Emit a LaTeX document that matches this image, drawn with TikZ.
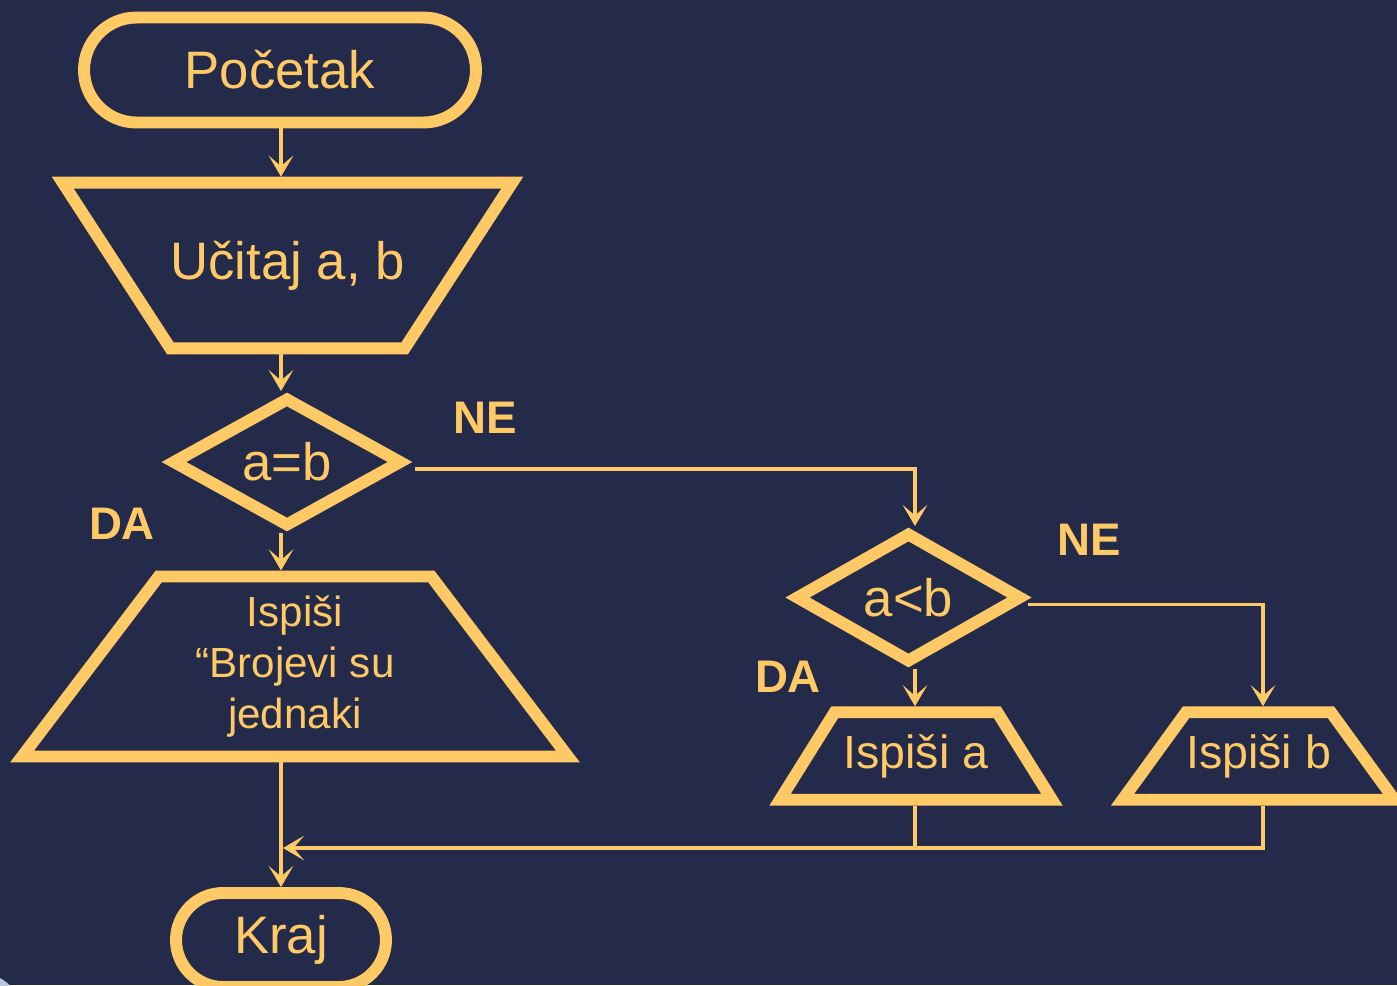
\documentclass[tikz,border=0pt]{standalone}
\usepackage{fontspec}
\setmainfont{Liberation Sans}
\usetikzlibrary{shapes.geometric,arrows.meta}

\definecolor{slide}{HTML}{242A4A}
\definecolor{zuta}{HTML}{FFCA66}
\definecolor{krug}{HTML}{B9C9DD}

\tikzset{
  box/.style={draw=zuta, line width=6.8pt, text=zuta, inner sep=0pt, align=center},
  terminal/.style={box, rectangle, font=\fontsize{30}{36}\selectfont},
  ulaz/.style={box, trapezium, trapezium stretches body=true},
  odluka/.style={box, diamond, aspect=1.8, font=\fontsize{30}{36}\selectfont},
  veza/.style={draw=zuta, line width=2.2pt},
  strel/.style={veza, -{Stealth[length=12pt, width=14pt, inset=6pt]}},
  oznaka/.style={text=zuta, font=\fontsize{26}{30}\selectfont\bfseries}
}

\begin{document}
\begin{tikzpicture}[x=0.02cm, y=-0.02cm]
  \fill[slide] (0,0) rectangle (1397,985);
  \useasboundingbox (0,0) rectangle (1397,985);
  \fill[krug] (-30,1030) circle (1.2cm);

  \node[terminal, minimum width=7.84cm, minimum height=2.1cm, rounded corners=1.05cm] (start) at (280,70) {Početak};
  \node[ulaz, trapezium left angle=123, trapezium right angle=123, minimum width=8.78cm, inner ysep=33.1pt,
        font=\fontsize{30}{36}\selectfont] (read) at (287.5,265.5) {Učitaj a, b};
  \node[odluka, minimum width=4.62cm, minimum height=2.6cm] (q1) at (287,462) {a=b};
  \node[ulaz, trapezium left angle=52.8, trapezium right angle=52.8, minimum width=10.92cm, inner ysep=11pt,
        font=\fontsize{24}{29}\selectfont] (pr1) at (295,666.5) {Ispiši\\“Brojevi su\\jednaki};
  \node[odluka, minimum width=4.54cm, minimum height=2.62cm] (q2) at (908.5,597.5) {a<b};
  \node[ulaz, trapezium left angle=58, trapezium right angle=58, minimum width=5.44cm, inner ysep=12.5pt,
        font=\fontsize{26.5}{32}\selectfont] (outa) at (916,756) {Ispiši a};
  \node[ulaz, trapezium left angle=54, trapezium right angle=54, minimum width=5.26cm, inner ysep=12.5pt,
        font=\fontsize{26.5}{32}\selectfont] (outb) at (1258.5,756) {Ispiši b};
  \node[terminal, minimum width=4.2cm, minimum height=1.88cm, rounded corners=0.94cm] (end) at (281,940) {Kraj};

  \node[oznaka] (ne1) at (485,418) {NE};
  \node[oznaka] (da1) at (122,524) {DA};
  \node[oznaka] (ne2) at (1089,540) {NE};
  \node[oznaka] (da2) at (788,677) {DA};

  % stupci za strelice
  \coordinate (col) at (281,0);
  \coordinate (col2) at (915,0);
  \coordinate (col3) at (1263,0);
  \coordinate (join) at (283,848);

  \draw[strel] (start.south -| col) -- (read.north -| col);
  \draw[strel] (read.south -| col) -- (q1.north -| col);
  \draw[strel] (q1.south -| col) -- (pr1.north -| col);
  \draw[strel] (pr1.south -| col) -- (end.north -| col);
  \draw[strel] ([xshift=0.14cm, yshift=-0.14cm]q1.east) -| (q2.north -| col2);
  \draw[strel] (q2.south -| col2) -- (outa.north -| col2);
  \draw[strel] ([yshift=-0.14cm]q2.east) -| (outb.north -| col3);
  \draw[veza] (outa.south -| col2) -- (col2 |- join);
  \draw[strel] (outb.south -| col3) |- (join);
\end{tikzpicture}
\end{document}
